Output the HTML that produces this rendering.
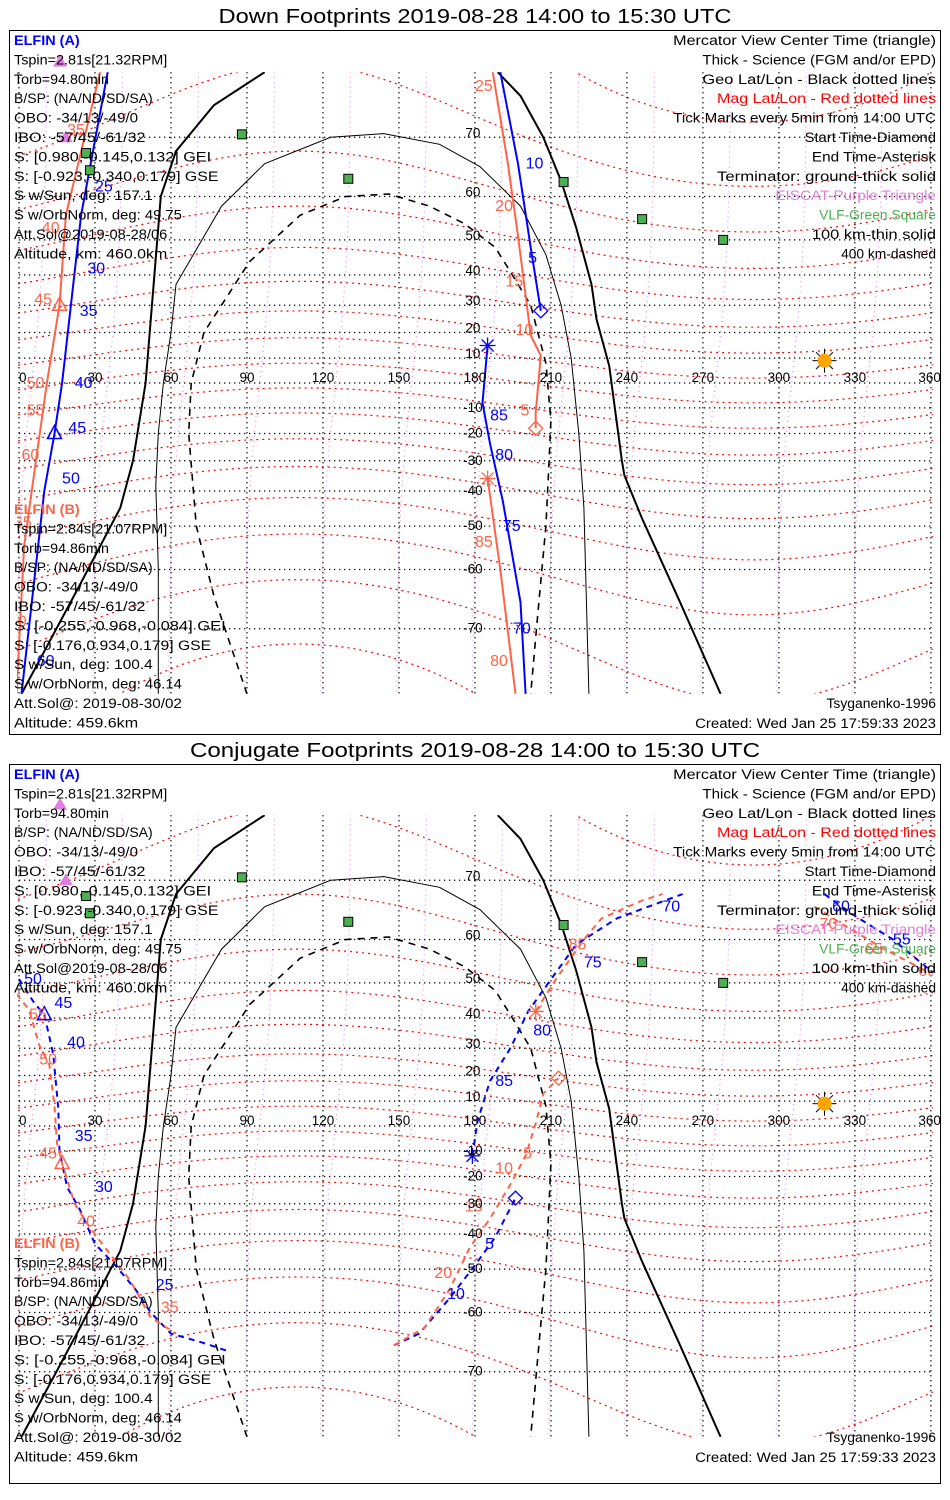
<!DOCTYPE html>
<html><head><meta charset="utf-8">
<style>
html,body{margin:0;padding:0;background:#fff;width:950px;height:1500px;overflow:hidden}
svg{display:block}
text{font-family:"Liberation Sans",sans-serif}
.t{font-size:13.5px}
.ttl{font-size:20px}
</style></head>
<body>
<svg id="chart" width="950" height="1500" viewBox="0 0 950 1500" xmlns="http://www.w3.org/2000/svg"></svg>
<script>
// ---- data ----
const panelTitles = ["Down Footprints 2019-08-28 14:00 to 15:30 UTC", "Conjugate Footprints 2019-08-28 14:00 to 15:30 UTC"];
const lonTicks = [0,30,60,90,120,150,180,210,240,270,300,330,360];
const latTicks = [70,60,50,40,30,20,10,-10,-20,-30,-40,-50,-60,-70];
const magLats = [-80,-70,-60,-50,-40,-30,-20,-10,0,10,20,30,40,50,60,70,80];
const magLons = [5,35,65,95,125,155,185,215,245,275,305,335];
const infoA = ["Tspin=2.81s[21.32RPM]","Torb=94.80min","B/SP: (NA/ND/SD/SA)","OBO: -34/13/-49/0","IBO: -57/45/-61/32","S: [0.980,-0.145,0.132] GEI","S: [-0.923,-0.340,0.179] GSE","S w/Sun, deg: 157.1","S w/OrbNorm, deg: 49.75","Att.Sol@2019-08-28/06","Altitude, km: 460.0km"];
const infoB = ["Tspin=2.84s[21.07RPM]","Torb=94.86min","B/SP: (NA/ND/SD/SA)","OBO: -34/13/-49/0","IBO: -57/45/-61/32","S: [-0.255,-0.968,-0.084] GEI","S: [-0.176,0.934,0.179] GSE","S w/Sun, deg: 100.4","S w/OrbNorm, deg: 46.14","Att.Sol@: 2019-08-30/02","Altitude: 459.6km"];
const legendLines = ["Mercator View Center Time (triangle)","Thick - Science (FGM and/or EPD)","Geo Lat/Lon - Black dotted lines","Mag Lat/Lon - Red dotted lines","Tick Marks every 5min from 14:00 UTC","Start Time-Diamond","End Time-Asterisk","Terminator: ground-thick solid","EISCAT-Purple Triangle","VLF-Green Square","100 km-thin solid","400 km-dashed"];
const legendColors = ["#000","#000","#000","#f00","#000","#000","#000","#000","#e07de0","#4caf50","#000","#000"];
const vlfLon = [88, 26.5, 28, 130, 215, 246, 278];
const vlfLat = [70.4, 67.7, 64.9, 63.4, 62.8, 55.1, 50];
const eiscatLon = [18.5, 16.2];
const eiscatLat = [70, 78.2];
const sunLon = 318, sunLat = 9;
const termThickL = [[97,77.3],[77,74],[62,68],[56,60],[50,0],[45,-30],[40,-45],[24,-63],[1,-77.3]];
const termThickR = [[189,77.3],[198,75],[207,70],[214,63],[220,53],[226,37],[228,25],[233,7],[238,-30],[239,-35],[246,-48],[261,-66],[277,-77.3]];
const term100 = [[55,-77.3],[55,-60],[54,-38],[55,-20],[57,0],[60,20],[62,37],[80,58],[97,66],[123,70],[144,70.5],[166,69],[182,65.5],[198,58],[208,46],[214,30],[218,10],[221,-20],[223,-45],[225,-77.3]];
const term400 = [[90,-77.3],[77,-65],[70,-50],[67,-20],[68,0],[73,20],[91,44],[111,56],[129,60],[146,60.5],[162,58],[176,54],[188,48],[194,41],[202,30],[208,8],[210,-15],[209,-35],[208,-50],[205,-67],[202,-77.3]];
const downBlueA1 = [[35,77.3],[24.5,56],[17,0],[14,-20],[10,-40],[1,-77.3]];
const downOrgB1 = [[32,77.3],[18.5,56],[16,30],[11,0],[7,-28],[2,-55],[-1,-77.3]];
const downBlueA2 = [[190,77.3],[197,66],[202,48],[206,28]];
const downBlueA3 = [[185,15],[183,-8],[186,-24],[191,-43],[198,-66],[200,-77.3]];
const downOrgB2 = [[187,77.3],[193,66],[197,51],[202,19],[206,11],[204,-12],[204,-18]];
const downOrgB3 = [[185,-36],[190,-60],[196,-77.3]];
const conjBlueA1 = [[0,51],[6,44.5],[10,41],[13.5,28],[15.5,7],[16,-10],[19,-24],[24,-32],[30,-43],[38,-49],[46,-55],[52,-60],[60,-64],[72,-65.5],[83,-67]];
const conjOrgB1 = [[-1,47],[4,42.5],[8,31],[12,24],[14,8],[15,-7],[17,-15],[22,-30],[28,-38],[36,-46],[44,-53],[52,-61],[62,-64]];
const conjBlueA2 = [[148,-66],[158,-64],[170,-57],[180,-49],[188,-41],[196,-28]];
const conjBlueA3 = [[179,-12],[181,2],[186,18],[194,30],[201,42],[209,50],[220,59],[236,64],[255,67],[262,68]];
const conjBlueA4 = [[318,68],[328,65],[345,60],[362,52]];
const conjOrgB2 = [[148,-66],[160,-63],[170,-55],[178,-44],[186,-35],[194,-23],[200,-12],[204,1],[206,9],[207,13],[213,19]];
const conjOrgB3 = [[204,42],[212,51],[223,60],[230,64],[246,67],[254,68]];
const conjOrgB4 = [[314,66],[325,63],[340,58.5],[358,53]];
const downLblA = [["25",30,62],["30",27,42],["35",24,28],["40",22,0],["45",19.5,-18],["50",17,-36],["60",7,-74],["10",200,66],["5",201,45],["85",186,-13],["80",188,-28],["75",191,-50],["70",195,-70]];
const downLblB = [["35",19,71],["40",9,53],["45",6,32],["50",3,0],["55",3,-11],["60",1,-28],["65",-2,-49],["70",-4,-69],["25",180,76],["20",188,58],["15",192,38],["10",196,21],["5",198,-11],["85",180,-54],["80",186,-74]];
const conjLblA = [["50",2,51],["45",14,44.5],["40",19,32],["35",22,-4],["30",30,-24],["25",54,-54],["10",169,-56],["5",184,-43],["85",188,18],["80",203,36],["75",223,55],["70",254,66],["60",321,66],["55",345,60]];
const conjLblB = [["55",4,41],["50",8,26],["45",8,-11],["40",23,-36],["35",56,-59],["20",164,-51],["15",176,-31],["10",188,-17],["5",199,-11],["85",217,59],["70",316,63],["65",334,58],["60",355,53]];
// ---- geometry ----
const X0 = 19, XS = 2.533, K = 141.6, LATMAX = 77.3;
const panelEq = [383, 1126];
const svg = document.getElementById('chart');
const NS = 'http://www.w3.org/2000/svg';
function xOf(lon){ return X0 + lon*XS; }
function yOf(lat, p){ const r = lat*Math.PI/180; return panelEq[p] - K*Math.log(Math.tan(Math.PI/4 + r/2)); }
function mk(tag, attrs, parent){ const e = document.createElementNS(NS, tag); for (const k in attrs) e.setAttribute(k, attrs[k]); (parent||svg).appendChild(e); return e; }
function pts(arr, p){ return arr.map(d => xOf(d[0]).toFixed(1)+','+yOf(d[1],p).toFixed(1)).join(' '); }

const defs = mk('defs', {});
[0,1].forEach(p=>{
  const cp = mk('clipPath', {id:'clip'+p}, defs);
  mk('rect', {x:xOf(0)-2, y:yOf(LATMAX,p), width:xOf(360)-xOf(0)+4, height:yOf(-LATMAX,p)-yOf(LATMAX,p)}, cp);
});

function text(str, x, y, opts, parent, fit){
  const t = mk('text', Object.assign({x:x, y:y, class:'t'}, opts||{}), parent);
  t.textContent = str;
  if (fit){ t.setAttribute('textLength', (str.length*fit).toFixed(1)); t.setAttribute('lengthAdjust','spacingAndGlyphs'); }
  return t;
}

function panel(p){
  const top = p===0 ? 30 : 764, bot = p===0 ? 734 : 1483;
  const g = mk('g', {});
  
  
  const title = text(panelTitles[p], 475, top-7, {class:'ttl', 'text-anchor':'middle'}, g, 11.4);
  
  
  const fr = mk('rect', {x:9.5, y:top+0.5, width:931, height:bot-top, fill:'none', stroke:'#000', 'stroke-width':1}, g);
  
  

  const map = mk('g', {'clip-path':'url(#clip'+p+')'}, g);
  
  
  magLons.forEach(L=>{
    const arr = [];
    for (let la=-85; la<=85; la+=5) arr.push([L + 6*Math.sin(la*Math.PI/180), la]);
    const l = mk('polyline', {points:pts(arr,p), fill:'none', stroke:'#e88ae8', 'stroke-width':1.2, 'stroke-dasharray':'1 4'}, map);
    
    
  });
  magLats.forEach(m=>{
    const arr = [];
    for (let lo=-5; lo<=365; lo+=5){
      let la = m - 8*Math.cos((lo-290)*Math.PI/180);
      la = Math.max(-84, Math.min(84, la));
      arr.push([lo, la]);
    }
    const l = mk('polyline', {points:pts(arr,p), fill:'none', stroke:'#f00', 'stroke-width':1.2, 'stroke-dasharray':'2 4'}, map);
    
    
  });
  lonTicks.forEach(lo=>{
    const l = mk('line', {x1:xOf(lo), x2:xOf(lo), y1:yOf(LATMAX,p), y2:yOf(-LATMAX,p), stroke:'#000', 'stroke-width':1.3, 'stroke-dasharray':'1.3 3.7'}, map);
    
    
  });
  latTicks.concat([0]).forEach(la=>{
    const l = mk('line', {x1:xOf(0), x2:xOf(360), y1:yOf(la,p), y2:yOf(la,p), stroke:'#000', 'stroke-width':1.3, 'stroke-dasharray':'1.3 3.7'}, map);
    
    
  });
  [[termThickL,2,'','terminator-ground'],[termThickR,2,'','terminator-ground'],[term100,1,'','terminator-100km'],[term400,1.6,'7 6','terminator-400km']].forEach(t=>{
    const l = mk('polyline', {points:pts(t[0],p), fill:'none', stroke:'#000', 'stroke-width':t[1], 'stroke-dasharray':t[2]}, map);
    
    
  });
  const blue = '#0000ff', org = '#ff6347';
  const tracks = p===0
    ? [[downBlueA1,blue,'elfin-a-track'],[downBlueA2,blue,'elfin-a-track'],[downBlueA3,blue,'elfin-a-track'],[downOrgB1,org,'elfin-b-track'],[downOrgB2,org,'elfin-b-track'],[downOrgB3,org,'elfin-b-track']]
    : [[conjBlueA1,blue,'elfin-a-track'],[conjBlueA2,blue,'elfin-a-track'],[conjBlueA3,blue,'elfin-a-track'],[conjBlueA4,blue,'elfin-a-track'],[conjOrgB1,org,'elfin-b-track'],[conjOrgB2,org,'elfin-b-track'],[conjOrgB3,org,'elfin-b-track'],[conjOrgB4,org,'elfin-b-track']];
  tracks.forEach(t=>{
    const l = mk('polyline', {points:pts(t[0],p), fill:'none', stroke:t[1], 'stroke-width':2, 'stroke-dasharray':p===0?'':'6 5'}, map);
    
    
  });
  function diamond(d, c){ const x=xOf(d[0]), y=yOf(d[1],p);
    const e = mk('polygon', {points:`${x},${y-7} ${x+7},${y} ${x},${y+7} ${x-7},${y}`, fill:'none', stroke:c, 'stroke-width':1.3}, map);
    
     }
  function aster(d, c){ const x=xOf(d[0]), y=yOf(d[1],p);
    const e = mk('path', {d:`M${x-8},${y}H${x+8}M${x},${y-8}V${y+8}M${x-6},${y-6}L${x+6},${y+6}M${x-6},${y+6}L${x+6},${y-6}`, stroke:c, 'stroke-width':1.3}, map);
    
     }
  function tri(d, c){ const x=xOf(d[0]), y=yOf(d[1],p);
    const e = mk('polygon', {points:`${x},${y-8} ${x+7},${y+5} ${x-7},${y+5}`, fill:'none', stroke:c, 'stroke-width':1.5}, map);
    
     }
  if (p===0){
    diamond(downBlueA2[downBlueA2.length-1], blue); aster(downBlueA3[0], blue);
    diamond(downOrgB2[downOrgB2.length-1], org); aster(downOrgB3[0], org);
    tri(downBlueA1[3], blue); tri([16,30], org);
  } else {
    diamond(conjBlueA2[conjBlueA2.length-1], blue); aster(conjBlueA3[0], blue);
    diamond(conjOrgB2[conjOrgB2.length-1], org); aster(conjOrgB3[0], org);
    tri(conjBlueA1[2], blue); tri(conjOrgB1[6], org);
  }
  (p===0?downLblA:conjLblA).forEach(l=>{ const t=text(l[0], xOf(l[1]), yOf(l[2],p)+5, {fill:blue, style:'font-size:16px'}, map);
    
     });
  (p===0?downLblB:conjLblB).forEach(l=>{ const t=text(l[0], xOf(l[1]), yOf(l[2],p)+5, {fill:org, style:'font-size:16px'}, map);
    
     });
  vlfLon.forEach((lo,i)=>{ const x=xOf(lo), y=yOf(vlfLat[i],p);
    const r = mk('rect', {x:x-4.5, y:y-4.5, width:9, height:9, fill:'#4caf50', stroke:'#000', 'stroke-width':1}, map);
    
     });
  eiscatLon.forEach((lo,i)=>{ const x=xOf(lo), y=yOf(eiscatLat[i],p);
    const e = mk('polygon', {points:`${x},${y-7} ${x+7},${y+5} ${x-7},${y+5}`, fill:'#e07de0'}, g);
    
     });
  { const x=xOf(sunLon), y=yOf(sunLat,p);
    const sg = mk('g', {}, map);
    
    
    for (let a=0;a<8;a++){ const an=a*Math.PI/4; mk('line',{x1:x+Math.cos(an)*6,y1:y+Math.sin(an)*6,x2:x+Math.cos(an)*12,y2:y+Math.sin(an)*12,stroke:'#000','stroke-width':1},sg); }
    mk('circle', {cx:x, cy:y, r:7, fill:'#ffa500'}, sg); }
  lonTicks.forEach(lo=>{ const t=text(String(lo), lo===360?xOf(360)+10:xOf(lo), panelEq[p]-1, {'text-anchor':lo===0?'start':(lo===360?'end':'middle')}, g);
    
     });
  latTicks.forEach(la=>{ const t=text(String(la), xOf(180)-2, yOf(la,p)+(la>0?0:4), {'text-anchor':'middle'}, g);
    
     });

  const t0 = top + 15, CW = 7.3;
  const ha = text('ELFIN (A)', 14, t0, {fill:blue, 'font-weight':'bold'}, g, CW);
  
  
  infoA.forEach((s,i)=>{ const t=text(s, 14, t0+19.4*(i+1), {}, g, CW);
    
     });
  const hb = text('ELFIN (B)', 14, top+484, {fill:org, 'font-weight':'bold'}, g, CW);
  
  
  infoB.forEach((s,i)=>{ const t=text(s, 14, top+484+19.4*(i+1), {}, g, CW);
    
     });
  legendLines.forEach((s,i)=>{ const t=text(s, 936, t0+19.4*i, {'text-anchor':'end', fill:legendColors[i]}, g, CW);
    
     });
  const ts = text('Tsyganenko-1996', 936, top+678, {'text-anchor':'end'}, g, CW);
  
  
  const cr = text('Created: Wed Jan 25 17:59:33 2023', 936, top+698, {'text-anchor':'end'}, g, CW);
  
  
}
panel(0); panel(1);
</script>
</body></html>
